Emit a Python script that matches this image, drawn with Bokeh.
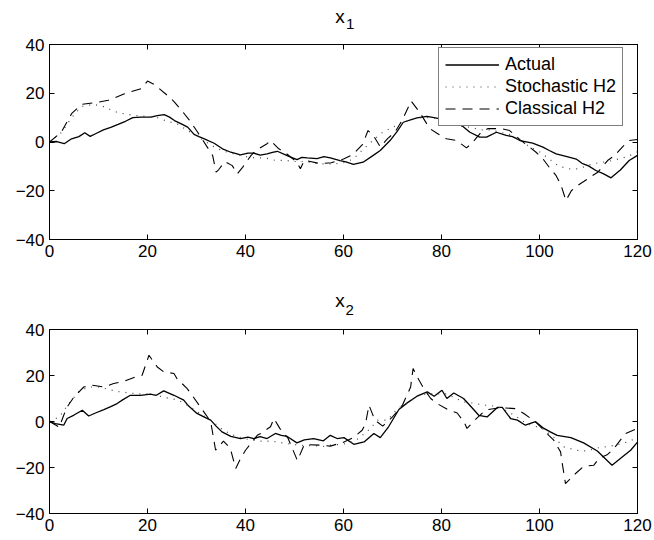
from bokeh.plotting import figure
from bokeh.layouts import column
from bokeh.models import LinearAxis, FixedTicker, Range1d, Legend, LegendItem
from bokeh.core.properties import value
from bokeh.embed import file_html
from bokeh.resources import INLINE

# ---------------- data ----------------
X_TICKS = [0, 20, 40, 60, 80, 100, 120]
Y_TICKS = [-40, -20, 0, 20, 40]
LEGEND_LABELS = ["Actual", "Stochastic H2", "Classical H2"]
TITLE_MAIN = "x"
TITLE_SUBS = ["1", "2"]

# panel x1
x1_actual_t = [0, 1.5, 3, 4.5, 6, 7.2, 8.3, 9.5, 11, 12.5, 14, 15.5, 17, 18.7, 20.7, 22, 23.4, 24.5, 25.5, 27,
               28.2, 29.5, 30.5, 31.6, 33.6, 35.3, 37, 39, 40.5, 41.7, 43, 44.4, 45.5, 46.5, 48.5, 50.5, 51.5, 52.6,
               54.6, 56, 57.3, 59.3, 60.5, 62, 64, 66, 67.5, 69.5, 71, 72.2, 74, 75, 77, 78.5, 79.7, 81.5, 83.7, 85.8,
               87.8, 89.2, 91.2, 93.2, 94.5, 96, 98.6, 100.7, 102, 103.4, 106, 107.5, 108.8, 110, 111.5, 113, 114.6,
               116.5, 118.3, 120]
x1_actual_v = [0, 0.2, -0.7, 1.3, 2.2, 3.8, 2.3, 3.5, 5.0, 6.0, 7.2, 8.5, 10.0, 10.2, 10.2, 10.8, 11.2, 10.2, 8.8, 7.3,
               6.1, 3.1, 2.2, 1.3, -0.5, -2.8, -4.2, -5.3, -4.6, -4.6, -5.4, -4.9, -4.3, -3.8, -5.6, -7.2, -6.3, -6.5,
               -6.8, -6.0, -6.5, -7.6, -8.2, -9.2, -8.3, -5.6, -3.5, 0.6, 4.5, 8.1, 9.3, 9.9, 10.5, 10.0, 9.5, 8.6, 7.5,
               4.0, 2.0, 2.0, 4.0, 2.7, 2.2, 0.6, -0.5, -2.1, -3.5, -4.9, -6.2, -7.0, -8.9, -9.8, -11.7, -13.0, -14.7,
               -11.5, -7.6, -5.5]
x1_stoch_t = [0, 2.5, 4.5, 6.5, 9, 11, 14, 17, 20, 22, 24, 26, 28, 30, 32, 34, 36, 38, 40, 42, 44, 46, 48, 50, 52, 55,
              58, 60, 62, 64, 66, 68, 70, 72, 74, 76, 78, 80, 82, 84, 86, 88, 90, 92, 94, 96, 98, 100, 102, 104, 106,
              108, 110, 112, 114, 116, 118, 120]
x1_stoch_v = [0, 4, 10, 14.5, 15.5, 14.5, 12, 11, 10.5, 10, 8.5, 7.5, 5, 2.5, 0, -2.5, -4, -5, -6, -6.5, -6.5, -7.5,
              -7.5, -8, -8, -9, -9, -8.5, -7, -3, 0.6, 4, 6, 8, 9.5, 10, 10, 9, 7.5, 6.5, 6, 5, 5, 4, 3, 1, -2, -4, -7,
              -10, -11, -11, -9.5, -8.5, -8, -7, -6, -4]
x1_class_t = [0, 2.4, 4.5, 6.5, 9.2, 12, 15.3, 18.7, 20, 21.4, 22.4, 24.5, 25.5, 27.5, 28.5, 30, 31, 32.3, 33.3, 34,
              34.5, 35.8, 37.3, 38.3, 39.4, 41.1, 42.1, 44.4, 45.1, 46.8, 48, 50.5, 51.2, 52, 55.3, 57.5, 60, 62, 63.9,
              65, 66.1, 67.5, 69, 70.5, 72, 73.8, 75.6, 77.6, 79, 81, 83.1, 85.1, 86.1, 88.1, 89.5, 92.2, 93.9, 96,
              99.3, 100.7, 102, 103.4, 104.4, 105.4, 106.5, 107.8, 109.1, 110.8, 111.9, 113.9, 115.3, 116.9, 118.3, 120]
x1_class_v = [0, 4, 11.6, 15.4, 16.1, 17.1, 19.8, 21.9, 25, 23.6, 21.9, 18.4, 16.4, 11.6, 9.1, 4.7, 1.7, -2.4, -5.6,
              -12.4, -11.4, -8, -9.7, -13.1, -10.4, -5.6, -3.5, -0.7, 0.6, -2.8, -4.2, -8.3, -11, -7.5, -8.9, -8.5, -7,
              -5, -1, 4.7, 2.7, -2, 1.4, 4, 9, 16.8, 12, 5.5, 3.7, 1.3, 0.6, -2.4, -0.7, 4.0, 5.5, 5.5, 4.7, 1, -4.2,
              -6.9, -10.4, -13.8, -17.8, -24, -20, -17.8, -16.1, -13.8, -12.4, -7.6, -5.6, -2.1, 0.6, 1]

# panel x2
x2_actual_t = [0, 1.2, 2.9, 3.6, 5, 6.7, 8, 9.5, 11.1, 12.5, 13.8, 15, 16.5, 18.6, 20.6, 21.8, 23.3, 25.4, 27.4, 28.4,
               30.1, 31.5, 32.9, 34, 35.2, 37, 39, 40.5, 41.7, 43, 44.4, 46.1, 47.3, 48.5, 50.5, 52, 53.9, 55.9, 57.3,
               58.7, 60.1, 62.1, 64.2, 66.2, 67.5, 69.2, 71.3, 73, 75, 77.1, 78.5, 80.1, 81.1, 82.5, 84.5, 86, 87.6,
               89.3, 91.4, 92.4, 94.1, 95.5, 97.1, 99.2, 100.9, 102.2, 103.6, 106.4, 109, 111.8, 114.8, 116.5, 118.6,
               120]
x2_actual_v = [0, -0.9, -1.6, 1.3, 2.8, 4.9, 2.4, 3.8, 5.2, 6.5, 7.8, 9.5, 11.4, 11.4, 11.9, 11.4, 13.3, 11.4, 9.3,
               6.7, 3.5, 2.0, 0.6, -2.0, -4.5, -6.5, -7.4, -6.8, -7.4, -6.6, -7.4, -5.2, -6.0, -6.5, -9.3, -8.0, -7.4,
               -8.4, -6.0, -7.4, -7.0, -9.9, -8.9, -5.2, -7.0, -2.3, 5.2, 8.1, 11.0, 12.9, 11.0, 13.6, 10.0, 12.4,
               10.0, 6.5, 2.7, 2.0, 6.1, 6.1, 1.3, 0.6, -1.6, -0.1, -3.0, -4.5, -6.0, -7.0, -9.3, -12.8, -19.0, -16.1,
               -12.5, -9.0]
x2_stoch_t = [0, 2, 4, 6, 8, 10, 12, 14, 16, 18, 20, 22, 23.3, 25, 27, 29, 31, 33, 35, 37, 39, 41, 43, 45, 46.7, 48,
              50, 52, 54, 55.9, 57.3, 59, 61, 63, 65, 67, 69, 71, 73, 75, 77, 79, 81, 83, 84.5, 86.5, 88.6, 90, 92,
              94.9, 97.3, 99, 101, 103, 104.9, 107.6, 109.6, 111.8, 114.5, 117, 118.6, 120]
x2_stoch_v = [0, 2, 8, 13, 15, 15, 14, 13, 12.5, 12, 12, 11.5, 10.4, 10, 8.5, 6, 3, 0.5, -3, -5.5, -7, -8, -8.5, -8.5,
              -8.9, -9.5, -10, -10.5, -10.5, -10.8, -10.3, -10, -9.5, -7.5, -4, 0.6, 0.6, 5.6, 8, 11, 12, 12, 12, 10,
              8.5, 8, 7.1, 7, 6, 2.7, -0.9, -2, -3.5, -7, -11, -12.5, -12.8, -11.5, -10.7, -9.6, -8.3, -7]
x2_class_t = [0, 2, 2.9, 3.6, 5, 5.7, 7, 8.7, 11.1, 13.1, 15.2, 17.6, 18.9, 20.3, 22, 23.3, 25.4, 26, 28.1, 29.1, 30.8,
              31.5, 32.9, 33.2, 33.9, 35.5, 36.9, 38, 39, 40, 42.4, 43.1, 45.1, 45.8, 47, 48.7, 50.6, 52, 55.3, 57.3,
              60, 62, 63.8, 64.5, 65.2, 66.4, 68, 70, 72, 73.7, 74.2, 75.4, 76.4, 77.8, 79.1, 81.5, 83.2, 84.6, 85.2,
              87, 89, 92, 95.1, 96.8, 99.2, 100.2, 101.9, 102.9, 104.3, 104.6, 105.3, 106, 107, 109, 111.1, 112.1,
              113.8, 115.2, 116.5, 117.6, 120]
x2_class_v = [0, -2.5, 2.7, 6.3, 10.7, 12.2, 15, 15.8, 15, 16.5, 17.5, 19.4, 20.1, 28.8, 23.7, 21.6, 20.9, 18.7, 14.3,
              11.4, 6.3, 4.2, -0.1, -3.8, -12.5, -8.5, -11.7, -20.4, -16.1, -12.5, -6, -5.2, -2.3, 1.3, -3, -7.4, -17,
              -10, -10.3, -10.7, -9, -7, -3.8, -0.9, 7.1, 0.6, -2, 2, 7, 15, 23, 18, 14.3, 10, 7.8, 4.9, 3.7, -0.2,
              -3, 1, 5, 6, 5.6, 3.5, -0.2, -2.3, -6, -8.1, -13.2, -17.6, -27, -25.5, -23.3, -19.5, -19, -16.1, -14.5,
              -11.7, -8.1, -5.2, -3]

# ---------------- styling ----------------
FONT = "Liberation Sans"
FRAME_W = 588
BORDER_L = 49
BORDER_R = 17


def style_axis(ax, ticks, show_labels=True):
    ax.ticker = FixedTicker(ticks=ticks)
    ax.major_tick_in = 5
    ax.major_tick_out = 0
    ax.minor_tick_line_color = None
    ax.axis_line_color = "black"
    ax.major_tick_line_color = "black"
    if show_labels:
        ax.major_label_text_font = FONT
        ax.major_label_text_font_size = "17px"
        ax.major_label_text_color = "black"
        ax.major_label_standoff = 5
    else:
        ax.major_label_overrides = {t: "" for t in ticks}
        ax.major_label_text_font_size = "0px"
        ax.major_label_standoff = 0


def make_title(height, sub, x_center, x_mid, sub_left, sub_mid):
    """A strip above a panel (same horizontal frame as the panel) holding 'x' and its subscript."""
    t = figure(title=None, frame_width=FRAME_W, frame_height=height,
               min_border_left=BORDER_L, min_border_right=BORDER_R, min_border_top=0, min_border_bottom=0,
               x_range=Range1d(0, 120), y_range=Range1d(0, height),
               x_axis_location=None, y_axis_location=None,
               output_backend="svg", toolbar_location=None)
    t.grid.visible = False
    t.outline_line_color = None
    t.background_fill_color = "white"
    t.border_fill_color = "white"
    t.text(x=[x_center], y=[x_mid], text=[TITLE_MAIN], text_align="center", text_baseline="middle",
           text_font=value(FONT), text_font_size="19px", text_color="black")
    t.text(x=[sub_left], y=[sub_mid], text=[sub], text_align="left", text_baseline="middle",
           text_font=value(FONT), text_font_size="15px", text_color="black")
    return t


def make_panel(frame_h, top_b, bot_b, at, av, st, sv, ct, cv, with_legend):
    p = figure(title=None, frame_width=FRAME_W, frame_height=frame_h,
               min_border_left=BORDER_L, min_border_right=BORDER_R,
               min_border_top=top_b, min_border_bottom=bot_b,
               x_range=Range1d(0, 120), y_range=Range1d(-40, 40),
               output_backend="svg", toolbar_location=None)
    p.xgrid.visible = False
    p.ygrid.visible = False
    p.outline_line_color = "black"
    p.outline_line_width = 1
    p.background_fill_color = "white"
    p.border_fill_color = "white"
    style_axis(p.xaxis[0], X_TICKS)
    style_axis(p.yaxis[0], Y_TICKS)
    top_ax = LinearAxis()
    style_axis(top_ax, X_TICKS, show_labels=False)
    p.add_layout(top_ax, "above")
    right_ax = LinearAxis()
    style_axis(right_ax, Y_TICKS, show_labels=False)
    p.add_layout(right_ax, "right")

    r_a = p.line(at, av, line_color="black", line_width=1.3)
    r_s = p.line(st, sv, line_color="#444444", line_width=1.2, line_dash="1 6")
    r_c = p.line(ct, cv, line_color="black", line_width=1.1, line_dash="10 7")

    if with_legend:
        legend = Legend(items=[LegendItem(label=LEGEND_LABELS[0], renderers=[r_a]),
                               LegendItem(label=LEGEND_LABELS[1], renderers=[r_s]),
                               LegendItem(label=LEGEND_LABELS[2], renderers=[r_c])],
                        location=(389, 113))
        legend.label_text_font = FONT
        legend.label_text_font_size = "18px"
        legend.label_text_color = "black"
        legend.glyph_width = 54
        legend.label_standoff = 6
        legend.label_height = 21
        legend.glyph_height = 21
        legend.spacing = 1
        legend.padding = 6
        legend.margin = 0
        legend.border_line_color = "black"
        legend.border_line_width = 1
        legend.background_fill_color = "white"
        legend.background_fill_alpha = 1
        p.add_layout(legend)
    return p


t1 = make_title(32, TITLE_SUBS[0], 59.3, 15.9, 60.5, 8.7)
p1 = make_panel(195, 12, 31, x1_actual_t, x1_actual_v, x1_stoch_t, x1_stoch_v, x1_class_t, x1_class_v, True)
t2 = make_title(48, TITLE_SUBS[1], 59.3, 17.9, 60.4, 8.7)
p2 = make_panel(184, 11, 27, x2_actual_t, x2_actual_v, x2_stoch_t, x2_stoch_v, x2_class_t, x2_class_v, False)

layout = column(t1, p1, t2, p2, spacing=0)
open("out.html", "w").write(file_html(layout, INLINE))
